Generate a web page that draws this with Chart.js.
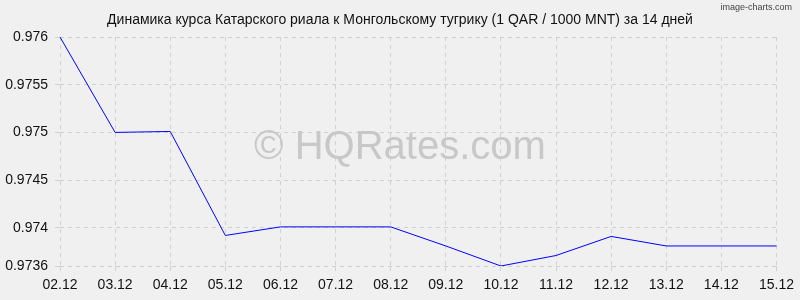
<!DOCTYPE html>
<html>
<head>
<meta charset="utf-8">
<script src="https://cdn.jsdelivr.net/npm/chart.js@4.4.1/dist/chart.umd.min.js"></script>
<style>
html,body{margin:0;padding:0;background:#f0f0f0;}
#wrap{position:relative;width:800px;height:300px;}
canvas{display:block;}
</style>
</head>
<body>
<div id="wrap"><canvas id="c" width="800" height="300"></canvas></div>
<script>
const titleText = 'Динамика курса Катарского риала к Монгольскому тугрику (1 QAR / 1000 MNT) за 14 дней';
const categories = ['02.12','03.12','04.12','05.12','06.12','07.12','08.12','09.12','10.12','11.12','12.12','13.12','14.12','15.12'];
const rates = [0.97600, 0.97500, 0.97501, 0.97392, 0.97401, 0.97401, 0.97401, 0.97381, 0.97360, 0.97371, 0.97391, 0.97381, 0.97381, 0.97381];
const yTicks = [0.9736, 0.974, 0.9745, 0.975, 0.9755, 0.976];
const watermark = '© HQRates.com';
const credit = 'image-charts.com';

const decor = {
  id: 'decor',
  beforeDraw(chart) {
    const ctx = chart.ctx;
    ctx.save();
    ctx.fillStyle = '#f0f0f0';
    ctx.fillRect(0, 0, chart.width, chart.height);
    ctx.restore();
  },
  beforeDatasetsDraw(chart) {
    const ctx = chart.ctx;
    ctx.save();
    ctx.fillStyle = '#c8c8c8';
    ctx.font = '40px "Liberation Sans", Arial, sans-serif';
    ctx.textAlign = 'center';
    ctx.textBaseline = 'middle';
    ctx.fillText(watermark, 400, 148);
    ctx.restore();
  },
  afterDraw(chart) {
    const ctx = chart.ctx;
    ctx.save();
    ctx.fillStyle = '#111';
    ctx.font = '14px "Liberation Sans", Arial, sans-serif';
    ctx.textAlign = 'center';
    ctx.textBaseline = 'alphabetic';
    ctx.fillText(titleText, 400, 24);
    ctx.fillStyle = '#444';
    ctx.font = '9px "Liberation Sans", Arial, sans-serif';
    ctx.textAlign = 'right';
    ctx.fillText(credit, 792, 10);
    ctx.restore();
  }
};

new Chart(document.getElementById('c'), {
  type: 'line',
  data: {
    labels: categories,
    datasets: [{
      data: rates,
      borderColor: '#0000ff',
      borderWidth: 1,
      pointRadius: 0,
      tension: 0,
      fill: false
    }]
  },
  options: {
    responsive: false,
    animation: false,
    devicePixelRatio: 1,
    layout: { padding: { top: 37, right: 21, left: 0, bottom: 0 } },
    plugins: { legend: { display: false }, title: { display: false }, tooltip: { enabled: false } },
    scales: {
      x: {
        offset: false,
        border: { display: false, dash: [4, 4] },
        grid: { color: '#d0d0d0', tickLength: 5, drawTicks: true },
        ticks: { color: '#111', font: { family: '"Liberation Sans", Arial, sans-serif', size: 14 }, padding: 6, maxRotation: 0, autoSkip: false },
        afterFit(s) { s.height = 34; }
      },
      y: {
        min: 0.9736,
        max: 0.976,
        border: { display: false, dash: [4, 4] },
        grid: { color: '#d0d0d0', tickLength: 5 },
        afterBuildTicks(s) { s.ticks = yTicks.map(v => ({ value: v })); },
        ticks: { color: '#111', font: { family: '"Liberation Sans", Arial, sans-serif', size: 14 }, padding: 7, callback: v => String(v) },
        afterFit(s) { s.width = 60; }
      }
    }
  },
  plugins: [decor]
});
</script>
</body>
</html>
